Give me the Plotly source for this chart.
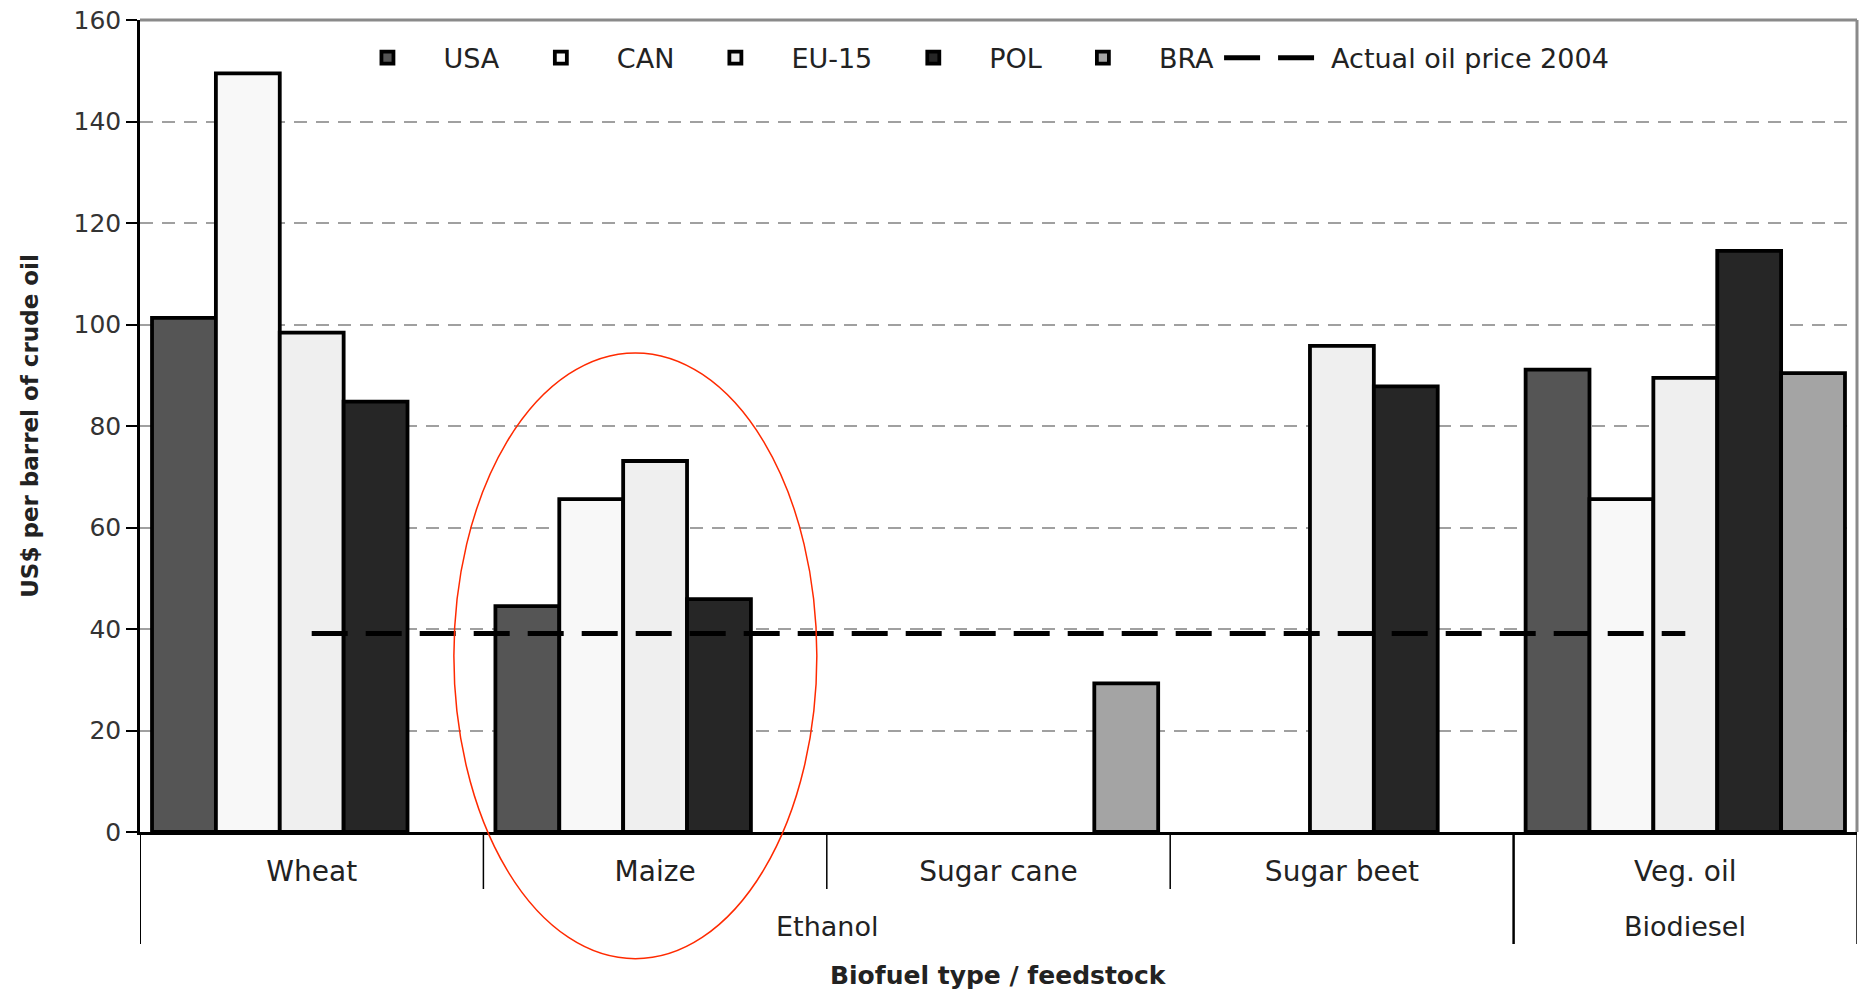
import plotly.graph_objects as go

# ---- data ----
feedstocks = ["Wheat", "Maize", "Sugar cane", "Sugar beet", "Veg. oil"]
biofuel_types = ["Ethanol", "Biodiesel"]
usa = [101.3, 44.5, None, None, 91.1]
can = [149.5, 65.6, None, None, 65.6]
eu15 = [98.4, 73.1, None, 95.8, 89.5]
pol = [84.8, 45.9, None, 87.8, 114.5]
bra = [None, None, 29.3, None, 90.4]
oil_price_2004 = [39.1, 39.1, 39.1, 39.1, 39.1]
y_ticks = [0, 20, 40, 60, 80, 100, 120, 140, 160]

series = [
    ("USA", usa, "#555555"),
    ("CAN", can, "#f8f8f8"),
    ("EU-15", eu15, "#efefef"),
    ("POL", pol, "#262626"),
    ("BRA", bra, "#a4a4a4"),
]

FONT = "DejaVu Sans, Verdana, Arial, sans-serif"

fig = go.Figure()
for name, vals, col in series:
    fig.add_trace(go.Bar(
        name=name, x=feedstocks, y=vals,
        marker=dict(color=col, line=dict(color="#000000", width=3.8)),
    ))

fig.add_trace(go.Scatter(
    name="Actual oil price 2004", x=feedstocks, y=oil_price_2004,
    mode="lines", line=dict(color="#000000", width=5, dash="36px,18px"),
))

# plot-area geometry (pixels) used to place decorations
H_PLOT = 812.0
def py(pix_below_axis):
    return -pix_below_axis / H_PLOT

shapes = []
# inner dividers between feedstocks
for xv in [0.5, 1.5, 2.5]:
    shapes.append(dict(type="line", xref="x", yref="paper", x0=xv, x1=xv,
                       y0=0, y1=py(57), line=dict(color="#000000", width=1.5)))
# outer dividers (left edge, Ethanol|Biodiesel, right edge)
shapes.append(dict(type="line", xref="x", yref="paper", x0=-0.5, x1=-0.5,
                   y0=0, y1=py(112), line=dict(color="#000000", width=2)))
shapes.append(dict(type="line", xref="x", yref="paper", x0=3.5, x1=3.5,
                   y0=0, y1=py(112), line=dict(color="#000000", width=2.5)))
shapes.append(dict(type="line", xref="x", yref="paper", x0=4.5, x1=4.5,
                   y0=0, y1=py(112), line=dict(color="#000000", width=1.5)))
# top and right frame
shapes.append(dict(type="line", xref="paper", yref="paper", x0=0, x1=1,
                   y0=1, y1=1, line=dict(color="#8a8a8a", width=3)))
shapes.append(dict(type="line", xref="paper", yref="paper", x0=1, x1=1,
                   y0=0, y1=1, line=dict(color="#8a8a8a", width=3)))
# red ellipse highlighting Maize
shapes.append(dict(type="circle", xref="x", yref="paper", x0=0.414, x1=1.471,
                   y0=-0.156, y1=0.590, line=dict(color="#ff2a00", width=1.5),
                   fillcolor="rgba(0,0,0,0)", layer="above"))

annotations = [
    dict(text="Ethanol", x=1.5, xref="x", y=py(94), yref="paper",
         showarrow=False, font=dict(family=FONT, size=27, color="#222222"),
         yanchor="middle"),
    dict(text="Biodiesel", x=4, xref="x", y=py(94), yref="paper",
         showarrow=False, font=dict(family=FONT, size=27, color="#222222"),
         yanchor="middle"),
    dict(text="<b>Biofuel type / feedstock</b>", x=0.5, xref="paper", y=py(143), yref="paper",
         showarrow=False, font=dict(family=FONT, size=25, color="#222222"),
         yanchor="middle"),
]

fig.update_layout(
    width=1863, height=992,
    margin=dict(l=140, r=6, t=20, b=160, autoexpand=False),
    paper_bgcolor="#ffffff", plot_bgcolor="#ffffff",
    barmode="group", bargap=0.07, bargroupgap=0,
    font=dict(family=FONT, color="#222222"),
    showlegend=True,
    legend=dict(orientation="h", x=0.1115, y=0.953, xanchor="left", yanchor="middle",
                font=dict(family=FONT, size=27, color="#222222"),
                bgcolor="rgba(255,255,255,0)", itemwidth=102, tracegroupgap=0),
    shapes=shapes,
    annotations=annotations,
)

fig.update_xaxes(
    type="category", showgrid=False, showline=True, linecolor="#000000", linewidth=2.5,
    ticks="", tickfont=dict(family=FONT, size=28, color="#222222"),
    ticklabelstandoff=13, zeroline=False, range=[-0.5, 4.5], automargin=False,
)
fig.update_yaxes(
    range=[0, 160], tickvals=y_ticks, showline=True, linecolor="#000000", linewidth=2.5,
    ticks="outside", ticklen=11, tickwidth=2, tickcolor="#000000",
    tickfont=dict(family=FONT, size=25, color="#333333"),
    showgrid=True, gridcolor="#a0a0a0", gridwidth=2, griddash="13px,9px",
    zeroline=False, automargin=False,
    title=dict(text="<b>US$ per barrel of crude oil</b>", standoff=29,
               font=dict(family=FONT, size=23, color="#222222")),
)

# remove the default page margin so the figure fills the window exactly
fig.write_html("out.html", config={"displayModeBar": False},
               post_script="document.body.style.margin='0';")
